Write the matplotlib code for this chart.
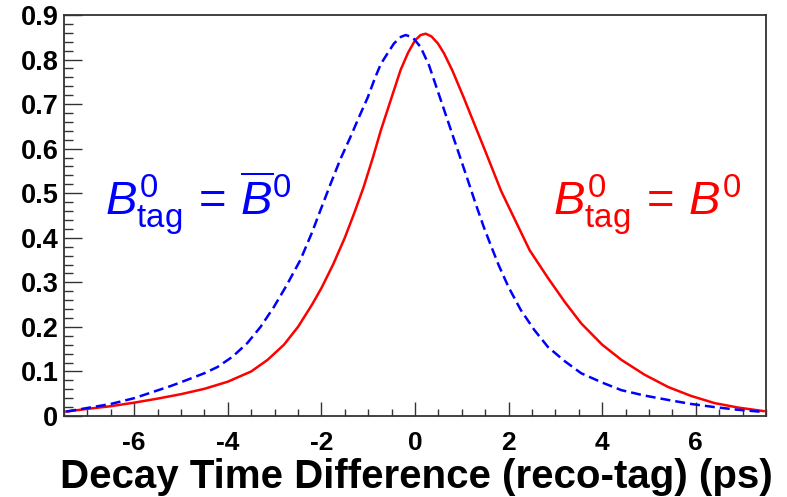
import matplotlib
matplotlib.use("Agg")
import matplotlib.pyplot as plt
from matplotlib.ticker import FixedLocator, MultipleLocator

plt.rcParams["font.family"] = ["Liberation Sans", "DejaVu Sans"]
plt.rcParams["mathtext.fontset"] = "custom"
plt.rcParams["mathtext.rm"] = "Liberation Sans"
plt.rcParams["mathtext.it"] = "Liberation Sans:italic"
plt.rcParams["mathtext.bf"] = "Liberation Sans:bold"

# red curve: B0 tag = B0
red_t = [-7.45, -7.0, -6.5, -6.0, -5.5, -5.0, -4.5, -4.0, -3.5, -3.15,
         -2.8, -2.5, -2.2, -2.0, -1.75, -1.5, -1.3, -1.1, -0.9, -0.73,
         -0.5, -0.31, -0.15, 0.0, 0.12, 0.23, 0.35, 0.49, 0.62, 0.8,
         1.04, 1.25, 1.5, 1.84, 2.11, 2.45, 2.84, 3.2, 3.55, 4.0,
         4.41, 4.9, 5.41, 5.9, 6.4, 6.9, 7.45]
red_y = [0.010, 0.016, 0.022, 0.030, 0.039, 0.049, 0.061, 0.077, 0.100, 0.126,
         0.160, 0.200, 0.250, 0.287, 0.340, 0.400, 0.455, 0.513, 0.580, 0.641,
         0.715, 0.776, 0.815, 0.843, 0.855, 0.858, 0.852, 0.836, 0.814, 0.775,
         0.715, 0.660, 0.595, 0.505, 0.446, 0.372, 0.310, 0.256, 0.208, 0.160,
         0.126, 0.093, 0.065, 0.045, 0.029, 0.019, 0.011]

# blue curve: B0 tag = anti-B0
blue_t = [-7.45, -7.0, -6.5, -6.0, -5.6, -5.2, -4.87, -4.5, -4.22, -3.9,
          -3.58, -3.3, -3.02, -2.75, -2.45, -2.2, -2.02, -1.8, -1.6, -1.38,
          -1.2, -1.01, -0.85, -0.73, -0.58, -0.45, -0.3, -0.2, -0.05, 0.12,
          0.3, 0.5, 0.77, 0.95, 1.13, 1.3, 1.47, 1.62, 1.79, 2.0,
          2.26, 2.55, 2.84, 3.2, 3.55, 4.0, 4.41, 4.9, 5.41, 5.9,
          6.4, 6.9, 7.45]
blue_y = [0.010, 0.018, 0.027, 0.040, 0.054, 0.068, 0.081, 0.096, 0.110, 0.133,
          0.164, 0.200, 0.244, 0.292, 0.350, 0.412, 0.462, 0.522, 0.575, 0.626,
          0.670, 0.715, 0.760, 0.790, 0.815, 0.836, 0.851, 0.855, 0.850, 0.828,
          0.787, 0.725, 0.641, 0.585, 0.529, 0.475, 0.424, 0.383, 0.338, 0.289,
          0.238, 0.193, 0.155, 0.123, 0.096, 0.075, 0.058, 0.046, 0.036, 0.027,
          0.020, 0.014, 0.009]

x_ticks = [-6, -4, -2, 0, 2, 4, 6]
y_ticks = [0, 0.1, 0.2, 0.3, 0.4, 0.5, 0.6, 0.7, 0.8, 0.9]
y_labels = ["0", "0.1", "0.2", "0.3", "0.4", "0.5", "0.6", "0.7", "0.8", "0.9"]

fig = plt.figure(figsize=(7.87, 4.97), dpi=100)
ax = fig.add_axes([64 / 787, 1 - 416 / 497, 702 / 787, 401 / 497])

ax.plot(red_t, red_y, color="#ff0000", lw=1.8, solid_joinstyle="round")
ax.plot(blue_t, blue_y, color="#0000ff", lw=1.8, dashes=(4.0, 2.0))

ax.set_xlim(-7.5, 7.5)
ax.set_ylim(0, 0.9)

ax.xaxis.set_major_locator(FixedLocator(x_ticks))
ax.xaxis.set_minor_locator(MultipleLocator(0.5))
ax.yaxis.set_major_locator(FixedLocator(y_ticks))
ax.yaxis.set_minor_locator(MultipleLocator(0.02))
ax.set_xticklabels([str(v) for v in x_ticks])
ax.set_yticklabels(y_labels)

for side in ["top", "right", "bottom", "left"]:
    ax.spines[side].set_linewidth(1.3)
    ax.spines[side].set_color("#333333")

ax.tick_params(axis="x", which="major", direction="in", length=10, width=1.0,
               labelsize=19, pad=11, colors="#333333", labelcolor="black")
ax.tick_params(axis="x", which="minor", direction="in", length=5, width=1.0,
               colors="#333333")
ax.tick_params(axis="y", which="major", direction="in", length=13, width=1.0,
               labelsize=19.5, pad=4, colors="#333333", labelcolor="black")
ax.tick_params(axis="y", which="minor", direction="in", length=6.5, width=1.0,
               colors="#333333")
for lab in ax.get_xticklabels() + ax.get_yticklabels():
    lab.set_fontweight("bold")

fig.text(773 / 787, 1 - 488 / 497, "Decay Time Difference (reco-tag) (ps)",
         ha="right", va="baseline", fontsize=29, fontweight="bold")

fig.text(105 / 787, 1 - 215 / 497,
         r"$B^{0}_{\mathrm{tag}}\,=\,\overline{B}^{0}$",
         ha="left", va="baseline", fontsize=34, color="#0000ff")
fig.text(553 / 787, 1 - 215 / 497, r"$B^{0}_{\mathrm{tag}}\,=\,B^{0}$",
         ha="left", va="baseline", fontsize=34, color="#ff0000")

fig.savefig("out.png", dpi=100)
